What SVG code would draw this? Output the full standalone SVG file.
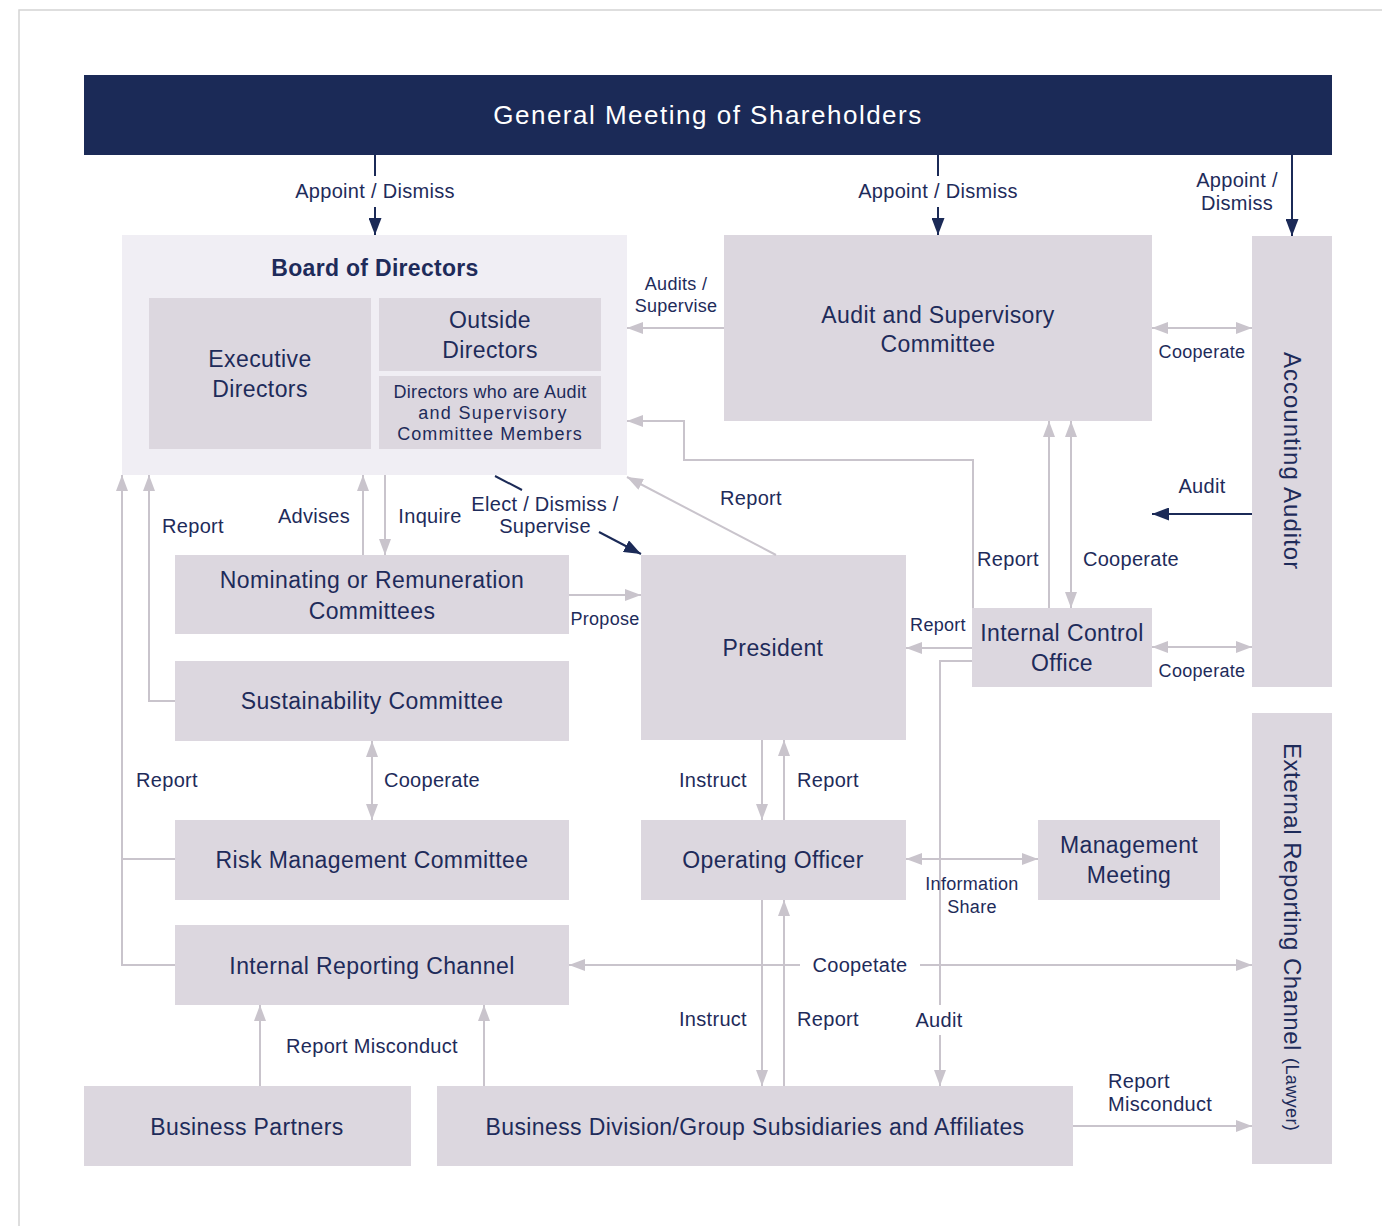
<svg xmlns="http://www.w3.org/2000/svg" width="1382" height="1226" viewBox="0 0 1382 1226">
<style>
.node{fill:#dcd7df}
.board{fill:#f0eef4}
.t{font-family:"Liberation Sans",Arial,sans-serif;fill:#1e2b5a;text-anchor:middle;dominant-baseline:central}
.nt{font-size:23px;letter-spacing:0.4px}
.lb{font-size:20px;letter-spacing:0.3px}
.sm{font-size:18px;letter-spacing:0.3px}
.c{stroke:#c9c4cc;stroke-width:2;fill:none}
.n{stroke:#1b2a57;stroke-width:2;fill:none}
</style>
<defs>
<marker id="ag" markerUnits="userSpaceOnUse" markerWidth="16" markerHeight="12" refX="16" refY="6" orient="auto-start-reverse" viewBox="0 0 16 12"><path d="M0,0 L16,6 L0,12z" fill="#c9c4cc"/></marker>
<marker id="an" markerUnits="userSpaceOnUse" markerWidth="17" markerHeight="13" refX="17" refY="6.5" orient="auto-start-reverse" viewBox="0 0 17 13"><path d="M0,0 L17,6.5 L0,13z" fill="#1b2a57"/></marker>
</defs>
<rect width="1382" height="1226" fill="#ffffff"/>
<path d="M19,1226 V10 H1382" fill="none" stroke="#d4d4d4" stroke-width="1.5"/>

<g id="shareholders">
<rect x="84" y="75" width="1248" height="80" fill="#1b2a57"/>
<text class="t" x="708" y="115" style="font-size:26px;letter-spacing:1.5px;fill:#ffffff">General Meeting of Shareholders</text>
</g>

<g id="board">
<rect class="board" x="122" y="235" width="505" height="240"/>
<text class="t" x="375" y="268" style="font-size:23px;font-weight:bold;letter-spacing:0.3px">Board of Directors</text>
<g id="executive-directors">
<rect class="node" x="149" y="298" width="222" height="151"/>
<text class="t nt" x="260" y="359">Executive</text>
<text class="t nt" x="260" y="389">Directors</text>
</g>
<g id="outside-directors">
<rect class="node" x="379" y="298" width="222" height="73"/>
<text class="t nt" x="490" y="320">Outside</text>
<text class="t nt" x="490" y="350">Directors</text>
</g>
<g id="audit-directors">
<rect class="node" x="379" y="376" width="222" height="73"/>
<text class="t sm" x="490" y="392">Directors who are Audit</text>
<text class="t sm" x="493" y="413" style="letter-spacing:1.3px">and Supervisory</text>
<text class="t sm" x="490" y="434" style="letter-spacing:1.1px">Committee Members</text>
</g>
</g>

<g id="audit-committee">
<rect class="node" x="724" y="235" width="428" height="186"/>
<text class="t nt" x="938" y="315">Audit and Supervisory</text>
<text class="t nt" x="938" y="344">Committee</text>
</g>

<g id="accounting-auditor">
<rect class="node" x="1252" y="236" width="80" height="451"/>
<text class="t" transform="translate(1292,352) rotate(90)" x="0" y="0" style="font-size:24px;letter-spacing:1px;text-anchor:start">Accounting Auditor</text>
</g>

<g id="external-channel">
<rect class="node" x="1252" y="713" width="80" height="451"/>
<text class="t" transform="translate(1292,743) rotate(90)" x="0" y="0" style="font-size:24px;letter-spacing:0.5px;text-anchor:start">External Reporting Channel <tspan style="font-size:18px;letter-spacing:0.4px">(Lawyer)</tspan></text>
</g>

<g id="nominating">
<rect class="node" x="175" y="555" width="394" height="79"/>
<text class="t nt" x="372" y="580">Nominating or Remuneration</text>
<text class="t nt" x="372" y="611">Committees</text>
</g>

<g id="sustainability">
<rect class="node" x="175" y="661" width="394" height="80"/>
<text class="t nt" x="372" y="701">Sustainability Committee</text>
</g>

<g id="risk">
<rect class="node" x="175" y="820" width="394" height="80"/>
<text class="t nt" x="372" y="860">Risk Management Committee</text>
</g>

<g id="internal-reporting">
<rect class="node" x="175" y="925" width="394" height="80"/>
<text class="t nt" x="372" y="966">Internal Reporting Channel</text>
</g>

<g id="business-partners">
<rect class="node" x="84" y="1086" width="327" height="80"/>
<text class="t nt" x="247" y="1127">Business Partners</text>
</g>

<g id="business-division">
<rect class="node" x="437" y="1086" width="636" height="80"/>
<text class="t nt" x="755" y="1127">Business Division/Group Subsidiaries and Affiliates</text>
</g>

<g id="president">
<rect class="node" x="641" y="555" width="265" height="185"/>
<text class="t nt" x="773" y="648">President</text>
</g>

<g id="operating-officer">
<rect class="node" x="641" y="820" width="265" height="80"/>
<text class="t nt" x="773" y="860">Operating Officer</text>
</g>

<g id="management-meeting">
<rect class="node" x="1038" y="820" width="182" height="80"/>
<text class="t nt" x="1129" y="845">Management</text>
<text class="t nt" x="1129" y="875">Meeting</text>
</g>

<g id="internal-control">
<rect class="node" x="972" y="608" width="180" height="79"/>
<text class="t nt" x="1062" y="633">Internal Control</text>
<text class="t nt" x="1062" y="663">Office</text>
</g>

<g id="connectors">
<path class="c" d="M724,328 H627" marker-end="url(#ag)"/>
<path class="c" d="M973,608 V460 H684 V421 H627" marker-end="url(#ag)"/>
<path class="c" d="M1049,608 V421" marker-end="url(#ag)"/>
<path class="c" d="M1071,421 V608" marker-start="url(#ag)" marker-end="url(#ag)"/>
<path class="c" d="M1152,328 H1252" marker-start="url(#ag)" marker-end="url(#ag)"/>
<path class="c" d="M1152,647 H1252" marker-start="url(#ag)" marker-end="url(#ag)"/>
<path class="c" d="M972,648 H906" marker-end="url(#ag)"/>
<path class="c" d="M972,661 H940 V1005"/>
<path class="c" d="M940,1035 V1086" marker-end="url(#ag)"/>
<path class="c" d="M906,859 H1038" marker-start="url(#ag)" marker-end="url(#ag)"/>
<path class="c" d="M800,965 H569" marker-end="url(#ag)"/>
<path class="c" d="M920,965 H1252" marker-end="url(#ag)"/>
<path class="c" d="M1073,1126 H1252" marker-end="url(#ag)"/>
<path class="c" d="M762,740 V820" marker-end="url(#ag)"/>
<path class="c" d="M784,820 V740" marker-end="url(#ag)"/>
<path class="c" d="M762,900 V1086" marker-end="url(#ag)"/>
<path class="c" d="M784,1086 V900" marker-end="url(#ag)"/>
<path class="c" d="M776,555 L627,477" marker-end="url(#ag)"/>
<path class="c" d="M363,555 V475" marker-end="url(#ag)"/>
<path class="c" d="M385,475 V555" marker-end="url(#ag)"/>
<path class="c" d="M569,595 H641" marker-end="url(#ag)"/>
<path class="c" d="M175,701 H149 V475" marker-end="url(#ag)"/>
<path class="c" d="M175,965 H122 V475" marker-end="url(#ag)"/>
<path class="c" d="M175,859 H122"/>
<path class="c" d="M372,741 V820" marker-start="url(#ag)" marker-end="url(#ag)"/>
<path class="c" d="M260,1086 V1005" marker-end="url(#ag)"/>
<path class="c" d="M484,1086 V1005" marker-end="url(#ag)"/>
<path class="n" d="M375,155 V176"/>
<path class="n" d="M375,207 V235" marker-end="url(#an)"/>
<path class="n" d="M938,155 V176"/>
<path class="n" d="M938,207 V235" marker-end="url(#an)"/>
<path class="n" d="M1292,155 V236" marker-end="url(#an)"/>
<path class="n" d="M1252,514 H1152" marker-end="url(#an)"/>
<path class="n" d="M495,476 L522,490"/>
<path class="n" d="M599,532 L641,554" marker-end="url(#an)"/>
</g>

<g id="labels">
<text class="t lb" x="375" y="191">Appoint / Dismiss</text>
<text class="t lb" x="938" y="191">Appoint / Dismiss</text>
<text class="t lb" x="1237" y="180">Appoint /</text>
<text class="t lb" x="1237" y="203">Dismiss</text>
<text class="t sm" x="676" y="284">Audits /</text>
<text class="t sm" x="676" y="306">Supervise</text>
<text class="t sm" x="1202" y="352">Cooperate</text>
<text class="t lb" x="1202" y="486">Audit</text>
<text class="t sm" x="1202" y="671">Cooperate</text>
<text class="t lb" x="751" y="498">Report</text>
<text class="t lb" x="545" y="504">Elect / Dismiss /</text>
<text class="t lb" x="545" y="526">Supervise</text>
<text class="t lb" x="314" y="516">Advises</text>
<text class="t lb" x="430" y="516">Inquire</text>
<text class="t lb" x="193" y="526">Report</text>
<text class="t sm" x="605" y="619">Propose</text>
<text class="t lb" x="1008" y="559">Report</text>
<text class="t lb" x="1131" y="559">Cooperate</text>
<text class="t sm" x="938" y="625">Report</text>
<text class="t lb" x="167" y="780">Report</text>
<text class="t lb" x="432" y="780">Cooperate</text>
<text class="t lb" x="713" y="780">Instruct</text>
<text class="t lb" x="828" y="780">Report</text>
<text class="t sm" x="972" y="884">Information</text>
<text class="t sm" x="972" y="907">Share</text>
<text class="t lb" x="860" y="965">Coopetate</text>
<text class="t lb" x="713" y="1019">Instruct</text>
<text class="t lb" x="828" y="1019">Report</text>
<text class="t lb" x="939" y="1020">Audit</text>
<text class="t lb" x="372" y="1046">Report Misconduct</text>
<text class="t lb" x="1108" y="1081" style="text-anchor:start">Report</text>
<text class="t lb" x="1108" y="1104" style="text-anchor:start">Misconduct</text>
</g>
</svg>
